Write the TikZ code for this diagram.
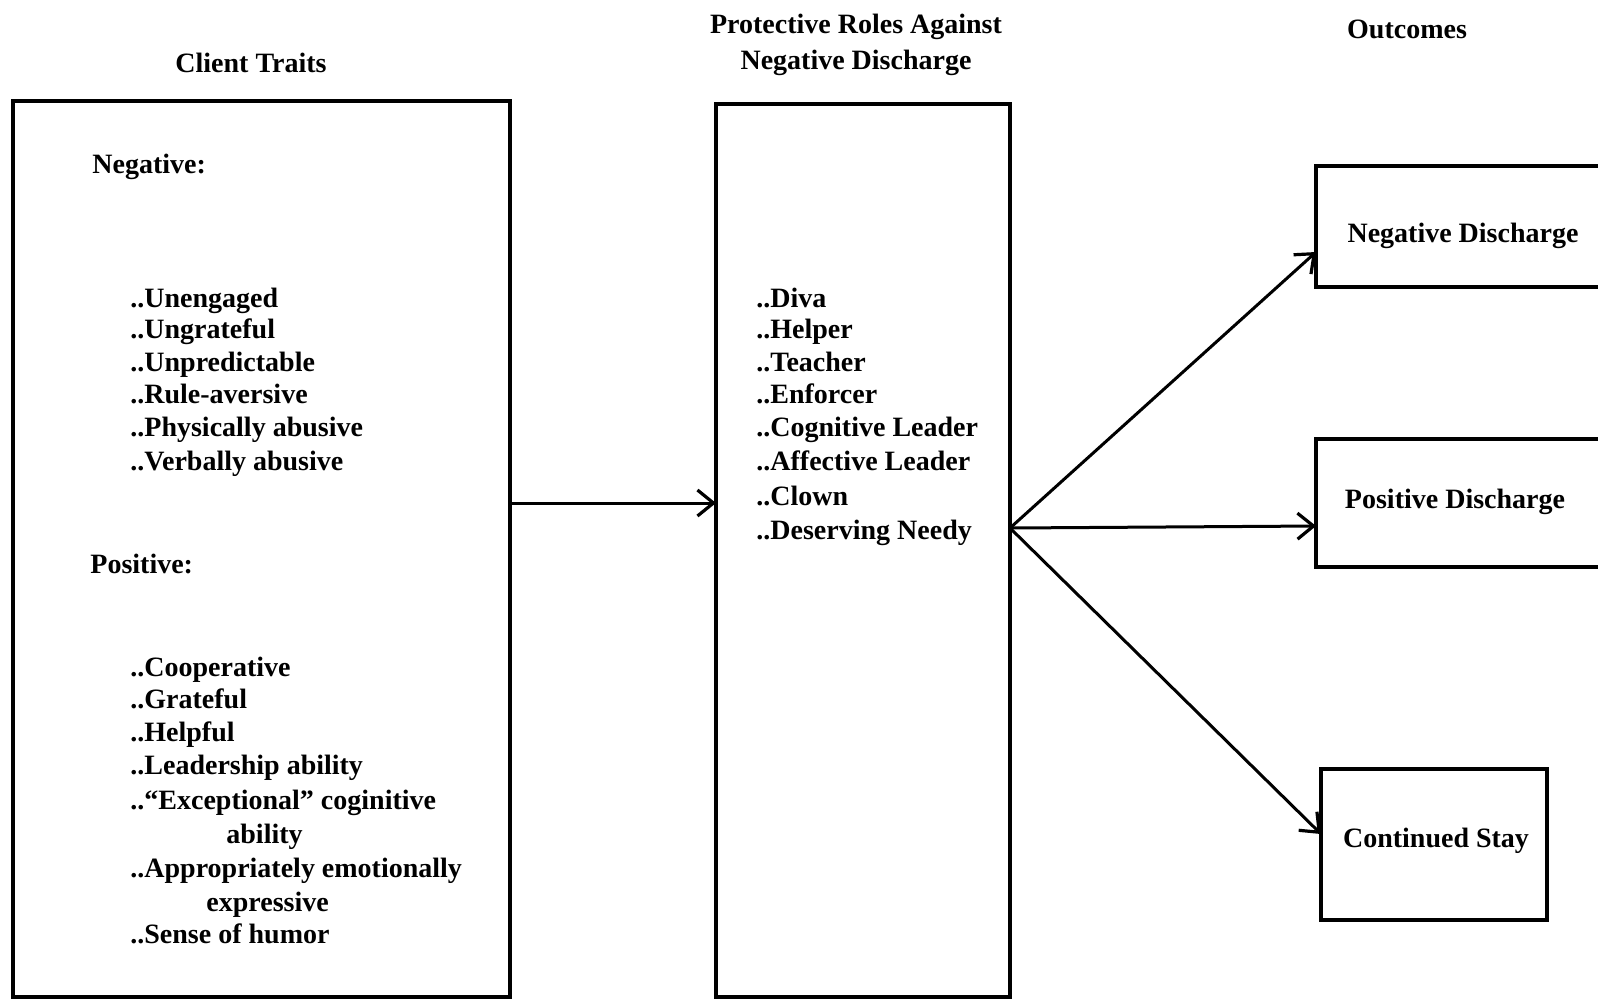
\documentclass[tikz,border=0pt]{standalone}
\usepackage{fontspec}
\setmainfont{Liberation Serif}
\usetikzlibrary{arrows.meta,fit}
\begin{document}
\begin{tikzpicture}[x=0.5pt,y=-0.5pt,
  every node/.style={font=\bfseries\fontsize{14}{16}\selectfont},
  frame/.style={draw, line width=1.7pt, inner sep=0pt},
  item/.style={anchor=west, inner sep=0pt, text height=10pt, text depth=3pt},
  head/.style={align=center, inner sep=0pt, font=\bfseries\fontsize{14}{18}\selectfont},
  label/.style={inner sep=0pt},
  link/.style={line width=1.5pt, -{Straight Barb[length=8pt,width=13pt,line width=1.6pt]}}]
\useasboundingbox (0,0) rectangle (1598,998);
\clip (0,0) rectangle (1598,998);

% column headings
\node[head] (h1) at (251,63) {Client Traits};
\node[head] (h2) at (856,45) {Protective Roles Against\\Negative Discharge};
\node[head] (h3) at (1407,29) {Outcomes};

% frames
\node[frame, fit={(13,101)(510,997)}] (traits) {};
\node[frame, fit={(716,104)(1010,997)}] (roles) {};
\node[frame, fit={(1316,166)(1612,287)}] (neg) {};
\node[frame, fit={(1316,439)(1612,567)}] (pos) {};
\node[frame, fit={(1321,769)(1547,920)}] (stay) {};

\node[label] (negt) at (1463,236) {Negative Discharge};
\node[label] (post) at (1455,502) {Positive Discharge};
\node[label] (stayt) at (1436,841) {Continued Stay};

% client traits
\node[item] (n0) at (92,166) {Negative:};
\node[item] (n1) at (130,300) {..Unengaged};
\node[item] (n2) at (130,331) {..Ungrateful};
\node[item] (n3) at (130,364) {..Unpredictable};
\node[item] (n4) at (130,396) {..Rule-aversive};
\node[item] (n5) at (130,429) {..Physically abusive};
\node[item] (n6) at (130,463) {..Verbally abusive};

\node[item] (p0) at (90,566) {Positive:};
\node[item] (p1) at (130,669) {..Cooperative};
\node[item] (p2) at (130,701) {..Grateful};
\node[item] (p3) at (130,734) {..Helpful};
\node[item] (p4) at (130,767) {..Leadership ability};
\node[item] (p5) at (130,802) {..``Exceptional'' coginitive};
\node[item] (p5b) at (226,836) {ability};
\node[item] (p6) at (130,870) {..Appropriately emotionally};
\node[item] (p6b) at (206,904) {expressive};
\node[item] (p7) at (130,936) {..Sense of humor};

% protective roles
\node[item] (r1) at (756,300) {..Diva};
\node[item] (r2) at (756,331) {..Helper};
\node[item] (r3) at (756,364) {..Teacher};
\node[item] (r4) at (756,396) {..Enforcer};
\node[item] (r5) at (756,429) {..Cognitive Leader};
\node[item] (r6) at (756,463) {..Affective Leader};
\node[item] (r7) at (756,498) {..Clown};
\node[item] (r8) at (756,532) {..Deserving Needy};

% connectors
\coordinate (tout) at (510,503);
\coordinate (rin) at (716,503);
\coordinate (rout) at (1010,528);
\coordinate (negin) at (1316,252);
\coordinate (posin) at (1316,526);
\coordinate (stayin) at (1321,834);

\draw[link] (tout) -- (rin);
\draw[link] (rout) -- (negin);
\draw[link] (rout) -- (posin);
\draw[link] (rout) -- (stayin);
\end{tikzpicture}
\end{document}
